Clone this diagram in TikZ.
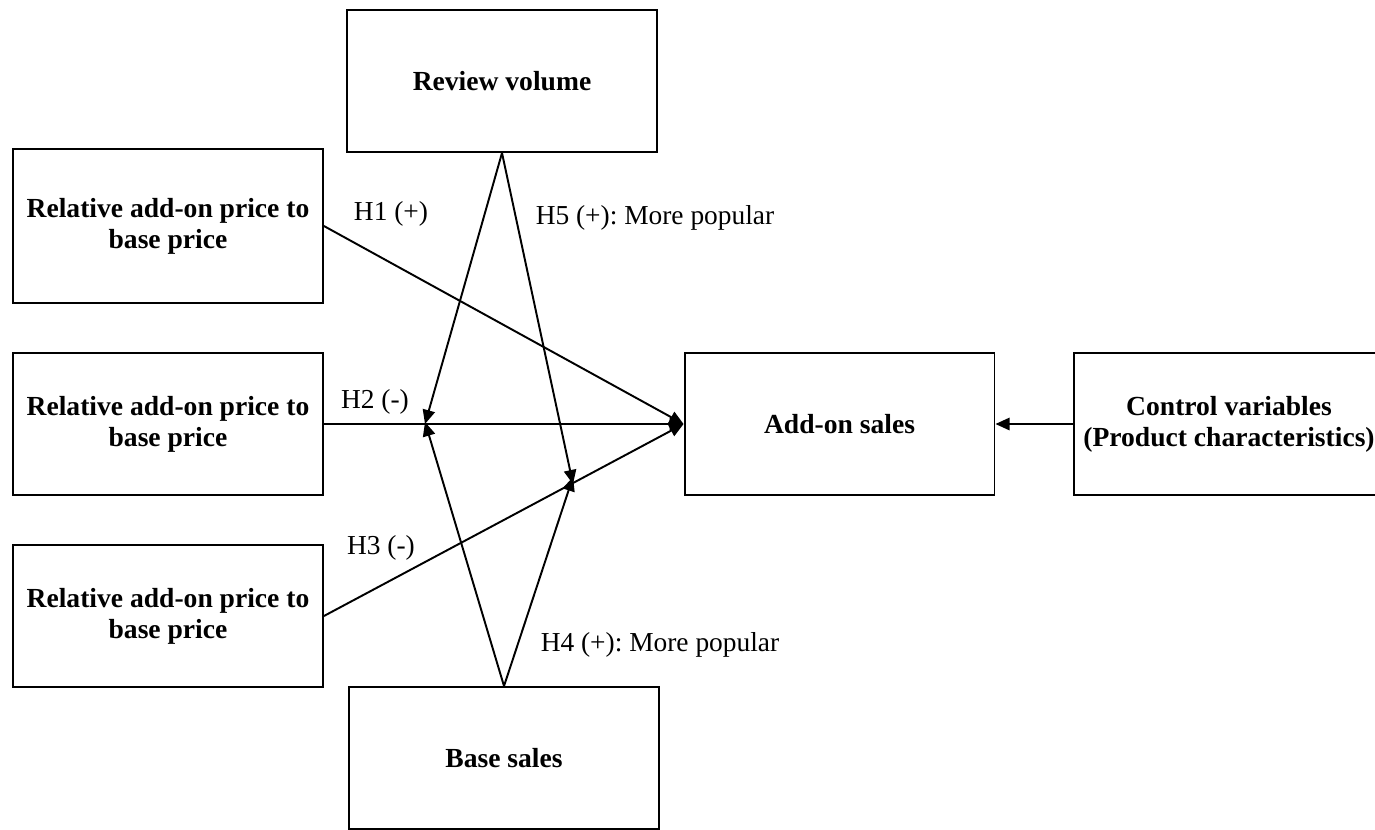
\documentclass[tikz,border=0pt]{standalone}
\usepackage{fontspec}
\setmainfont{Liberation Serif}
\usetikzlibrary{arrows.meta, positioning}
\frenchspacing

\begin{document}
\begin{tikzpicture}[
    x=0.02cm, y=-0.02cm,
    var/.style={rectangle, draw=black, line width=1.1pt, fill=white,
                minimum width=6.2cm, minimum height=2.84cm, align=center,
                font=\fontsize{15.7}{17.6}\selectfont\bfseries},
    hyp/.style={font=\fontsize{15.6}{18}\selectfont},
    arrow/.style={-{Triangle[length=8pt, width=7pt]}, line width=1.1pt},
]
\useasboundingbox (0,0) rectangle (1375,829);

% Moderators
\node[var] (review) at (502,81) {Review volume};
\node[var] (base) at (504,758) {Base sales};

% Independent variables
\node[var, minimum height=3.08cm] (price1) at (168,226) {Relative add-on price to\\base price};
\node[var] (price2) at (168,424) {Relative add-on price to\\base price};
\node[var] (price3) at (168,616) {Relative add-on price to\\base price};

% Dependent variable and controls
\node[var] (addon) at (839.5,424) {Add-on sales};
\node[var] (control) at (1229,424) {Control variables\\(Product characteristics)};

% Points where the moderators meet the paths
\coordinate (m2) at (425,424);
\coordinate (m3) at (573,480);

% Main paths
\draw[arrow] (price1.east) -- (addon.west);
\draw[arrow] (price2.east) -- (addon.west);
\draw[arrow] (price3.east) -- (addon.west);
\draw[arrow] (control.west) -- (addon.east);

% Moderating paths
\draw[arrow] (review.south) -- ([yshift=-0.08cm]m3);
\draw[arrow] (review.south) -- (m2);
\draw[arrow] (base.north) -- ([yshift=0.04cm]m2);
\draw[arrow] (base.north) -- ([yshift=0.06cm]m3);

% Hypotheses
\node[hyp] (h1) at (391,214) {H1 (+)};
\node[hyp] (h2) at (375,402) {H2 (-)};
\node[hyp] (h3) at (381,548) {H3 (-)};
\node[hyp] (h5) at (655,218) {H5 (+): More popular};
\node[hyp] (h4) at (660,645) {H4 (+): More popular};

\end{tikzpicture}
\end{document}
